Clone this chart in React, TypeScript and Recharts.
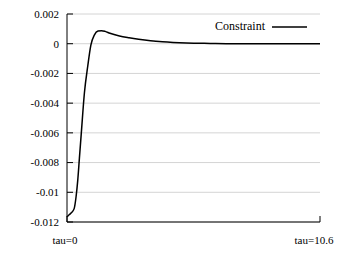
import React from "react";
import { LineChart, Line, XAxis, YAxis, CartesianGrid } from "recharts";

// tau samples and the constraint value at each
const tauValues = [0, 0.1, 0.2, 0.3, 0.38, 0.45, 0.52, 0.6, 0.73, 0.87, 1.0, 1.15, 1.3, 1.45, 1.6, 1.8, 2.2, 2.6, 3.0, 3.5, 4.0, 5.0, 6.0, 7.0, 8.5, 10.6];
const constraintValues = [
  -0.01165, -0.0115, -0.01135, -0.0111, -0.0103, -0.0092, -0.0077, -0.006, -0.0033, -0.0015,
  -0.0001, 0.0006, 0.00085, 0.00088, 0.00083, 0.0007, 0.00052, 0.0004, 0.0003, 0.0002,
  0.00013, 0.00005, 0.00002, 0.0, 0.0, 0.0,
];
const yTicks = [0.002, 0, -0.002, -0.004, -0.006, -0.008, -0.01, -0.012];
const xTicks = [0, 10.6];
const seriesName = "Constraint";

const data = tauValues.map((t, i) => ({ tau: t, constraint: constraintValues[i] }));

const FONT = "'Times New Roman', 'Liberation Serif', 'DejaVu Serif', serif";

const YTick = (props: any) => {
  const { x, y, payload } = props;
  return (
    <g>
      <line x1={x + 8} x2={x + 14} y1={y} y2={y} stroke="#000" strokeWidth={1} />
      <text x={x} y={y} dy="0.35em" textAnchor="end" style={{ fontFamily: FONT, fontSize: 11 }} fill="#000">
        {String(payload.value)}
      </text>
    </g>
  );
};

const XTick = (props: any) => {
  const { x, y, payload, index } = props;
  const last = index === xTicks.length - 1;
  return (
    <g>
      <line x1={x} x2={x} y1={y - 14} y2={y - 20} stroke="#000" strokeWidth={1} />
      <text x={last ? x - 6 : x - 2} y={y} dy="0.71em" textAnchor="middle" style={{ fontFamily: FONT, fontSize: 11 }} fill="#000">
        {"tau=" + payload.value}
      </text>
    </g>
  );
};

export default function App() {
  return (
    <div style={{ position: "absolute", left: 0, top: 0, width: 345, height: 259, background: "#fff" }}>
      <LineChart width={345} height={259} data={data} margin={{ top: 14, right: 25, bottom: 12, left: 0 }}>
        <CartesianGrid vertical={false} stroke="#d4d4d4" />
        <XAxis
          dataKey="tau"
          type="number"
          domain={[0, 10.6]}
          ticks={xTicks}
          height={25}
          tickSize={0}
          tickMargin={14}
          axisLine={{ stroke: "#000" }}
          tick={<XTick />}
        />
        <XAxis xAxisId="top" orientation="top" dataKey="tau" type="number" domain={[0, 10.6]} height={0} tick={false} tickLine={false} axisLine={{ stroke: "#000" }} />
        <YAxis
          domain={[-0.012, 0.002]}
          ticks={yTicks}
          width={67}
          tickSize={0}
          tickMargin={8}
          axisLine={{ stroke: "#000" }}
          tick={<YTick />}
        />
        <YAxis yAxisId="right" orientation="right" domain={[-0.012, 0.002]} width={0} tick={false} tickLine={false} axisLine={{ stroke: "#777" }} />
        <Line type="monotone" dataKey="constraint" stroke="#000" strokeWidth={1.5} dot={false} isAnimationActive={false} />
      </LineChart>
      <div
        style={{
          position: "absolute",
          top: 19,
          left: 215,
          display: "flex",
          alignItems: "center",
          fontFamily: FONT,
          fontSize: 12,
          color: "#000",
        }}
      >
        <span>{seriesName}</span>
        <svg width={42} height={6} style={{ marginLeft: 6 }}>
          <line x1={1} x2={36} y1={3} y2={3} stroke="#000" strokeWidth={1.3} />
        </svg>
      </div>
    </div>
  );
}
